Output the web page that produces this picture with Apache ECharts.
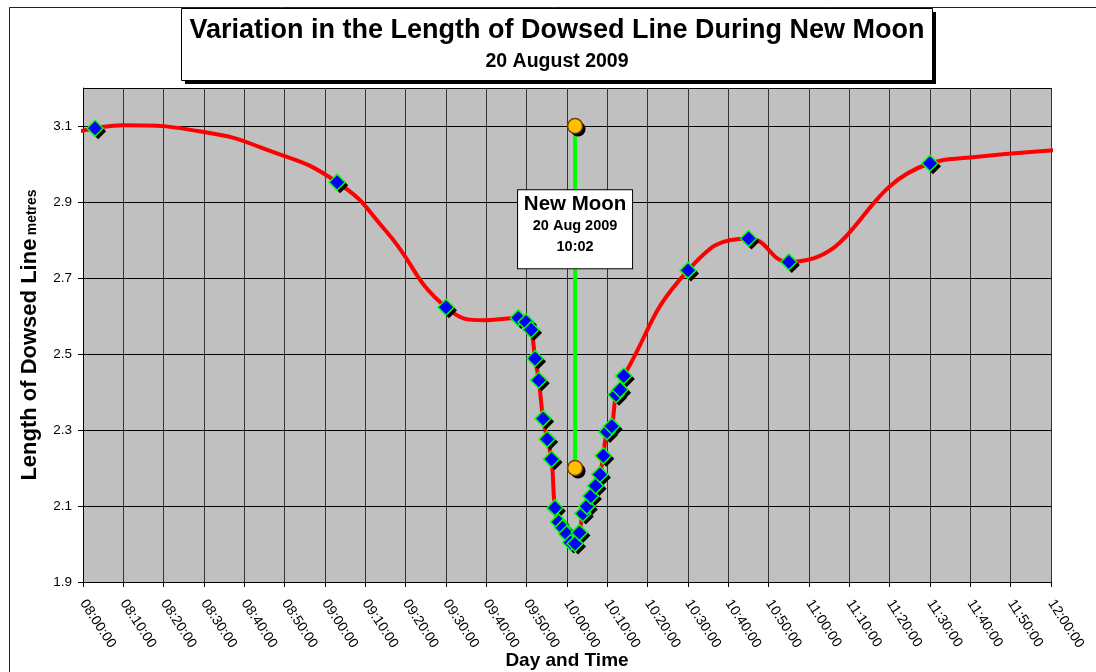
<!DOCTYPE html>
<html>
<head>
<meta charset="utf-8">
<script src="https://cdn.jsdelivr.net/npm/echarts@6/dist/echarts.min.js"></script>
<style>
html,body{margin:0;padding:0;background:#fff;}
#chart{width:1096px;height:672px;}
</style>
</head>
<body>
<div id="chart"></div>
<script>
// ---- Data ----
const xTickLabels = ['08:00:00','08:10:00','08:20:00','08:30:00','08:40:00','08:50:00',
  '09:00:00','09:10:00','09:20:00','09:30:00','09:40:00','09:50:00',
  '10:00:00','10:10:00','10:20:00','10:30:00','10:40:00','10:50:00',
  '11:00:00','11:10:00','11:20:00','11:30:00','11:40:00','11:50:00','12:00:00'];

// Measured samples (blue diamonds)
const sampleTimes = ['08:03:00','09:03:00','09:30:00','09:47:55','09:49:50','09:51:05',
  '09:52:05','09:53:00','09:54:05','09:55:05','09:56:10','09:57:00','09:57:55',
  '09:58:55','09:59:55','10:00:55','10:02:00','10:03:05','10:03:55','10:04:55',
  '10:05:55','10:07:05','10:08:10','10:09:00','10:09:55','10:11:05','10:12:10',
  '10:13:10','10:14:05','10:30:00','10:45:00','10:55:00','11:30:00'];
const sampleLengths = [3.094,2.952,2.623,2.595,2.584,2.564,
  2.488,2.431,2.330,2.276,2.223,2.095,2.058,
  2.043,2.027,2.004,2.001,2.030,2.080,2.099,
  2.126,2.153,2.183,2.232,2.295,2.310,2.393,
  2.406,2.442,2.720,2.804,2.742,3.002];

// Additional points (outside / between samples)
const curveExtraTimes = ['07:58:00','08:10:00','08:30:00','08:45:00','09:15:00','09:40:00','11:40:00','12:02:00'];
const curveExtraLengths = [3.083,3.102,3.084,3.040,2.825,2.589,3.017,3.037];

// New Moon marker
const moonTime = '10:02:00';
const moonLow = 2.2;
const moonHigh = 3.1;
const moonLabelLength = 2.828;
const moonLabelLines = ['New Moon','20 Aug 2009','10:02'];

// ---- helpers ----
function toMin(t){ const p=t.split(':').map(Number); return (p[0]-8)*60+p[1]+(p[2]||0)/60; }
const samples = sampleTimes.map((t,i)=>[toMin(t), sampleLengths[i]]);
const curve = samples.concat(curveExtraTimes.map((t,i)=>[toMin(t), curveExtraLengths[i]]))
  .sort((a,b)=>a[0]-b[0]);
const mt = toMin(moonTime);
const moonPts = [[mt,moonLow],[mt,moonHigh]];

const FONT = '"Liberation Sans", Arial, sans-serif';
const chart = echarts.init(document.getElementById('chart'));
chart.setOption({
  animation:false,
  backgroundColor:'#fff',
  textStyle:{fontFamily:FONT},
  grid:{left:83,right:45,top:88,bottom:90,show:true,backgroundColor:'#C0C0C0',borderWidth:0,
    containLabel:false,outerBoundsMode:'none'},
  graphic:[
    {type:'rect',z:100,silent:true,shape:{x:9.5,y:7.5,width:1300,height:900},
      style:{fill:null,stroke:'#222',lineWidth:1}},
    {type:'rect',z:100,silent:true,shape:{x:185,y:12,width:751,height:72},
      style:{fill:'#000',stroke:null}},
    {type:'rect',z:101,silent:true,shape:{x:181.5,y:8.5,width:751,height:72},
      style:{fill:'#fff',stroke:'#000',lineWidth:1}},
    {type:'text',z:102,silent:true,x:557,y:31,
      style:{text:'Variation in the Length of Dowsed Line During New Moon',font:'bold 27px '+FONT,fill:'#000',textAlign:'center',textVerticalAlign:'middle'}},
    {type:'text',z:102,silent:true,x:557,y:62,
      style:{text:'20 August 2009',font:'bold 19.5px '+FONT,fill:'#000',textAlign:'center',textVerticalAlign:'middle'}}
  ],
  xAxis:{
    type:'value',min:0,max:240,interval:10,
    name:'Day and Time',nameLocation:'middle',nameGap:69,nameMoveOverlap:false,
    nameTextStyle:{fontSize:19,fontWeight:'bold',color:'#000',fontFamily:FONT},
    axisLine:{show:true,onZero:false,lineStyle:{color:'#000',width:1}},
    axisTick:{show:true,length:5,lineStyle:{color:'#000'}},
    axisLabel:{rotate:-57,margin:19,fontSize:14,color:'#000',fontFamily:FONT,
      showMinLabel:true,showMaxLabel:true,hideOverlap:false,
      formatter:v=>xTickLabels[Math.round(v/10)]||''},
    splitLine:{show:true,lineStyle:{color:'#333',width:1}}
  },
  yAxis:{
    type:'value',min:1.9,max:3.2,interval:0.2,
    name:'{a|Length of Dowsed Line} {b|metres}',nameLocation:'middle',nameRotate:90,nameGap:42,nameMoveOverlap:false,
    nameTextStyle:{color:'#000',rich:{
      a:{fontSize:22,fontWeight:'bold',color:'#000',fontFamily:FONT},
      b:{fontSize:14,fontWeight:'bold',color:'#000',fontFamily:FONT,padding:[4,0,0,0]}}},
    axisLine:{show:true,lineStyle:{color:'#000',width:1}},
    axisTick:{show:true,length:5,lineStyle:{color:'#000'}},
    axisLabel:{margin:11,fontSize:13.5,color:'#000',fontFamily:FONT,showMaxLabel:false,
      formatter:v=>v.toFixed(1)},
    splitLine:{show:true,lineStyle:{color:'#000',width:1}}
  },
  series:[
    {type:'line',name:'moonline',data:moonPts,symbol:'none',z:2,
      lineStyle:{color:'#00FF00',width:4}},
    {type:'line',name:'curve',data:curve,smooth:0.5,showSymbol:false,symbol:'none',clip:false,z:3,
      lineStyle:{color:'#FF0000',width:4}},
    {type:'scatter',name:'samplesShadow',data:samples,symbol:'diamond',symbolSize:16,symbolOffset:[3,3],z:4,
      itemStyle:{color:'#000',opacity:1}},
    {type:'scatter',name:'samples',data:samples,symbol:'diamond',symbolSize:16,z:5,
      itemStyle:{color:'#0000FF',borderColor:'#00FF00',borderWidth:1.5,opacity:1}},
    {type:'scatter',name:'moonShadow',data:moonPts,symbol:'circle',symbolSize:15,symbolOffset:[3,3],z:6,
      itemStyle:{color:'#000',opacity:1}},
    {type:'scatter',name:'moon',data:moonPts,symbol:'circle',symbolSize:15,z:7,
      itemStyle:{color:'#FFC000',borderColor:'#7A3D00',borderWidth:1.5,opacity:1}},
    {type:'scatter',name:'moonlabel',data:[[mt,moonLabelLength]],symbolSize:1,z:8,
      itemStyle:{color:'rgba(0,0,0,0)',opacity:1},
      label:{show:true,position:'inside',opacity:1,
        formatter:'{a|'+moonLabelLines[0]+'}\n{b|'+moonLabelLines[1]+'}\n{c|'+moonLabelLines[2]+'}',
        backgroundColor:'#fff',borderColor:'#000',borderWidth:1,width:114,align:'center',
        padding:[3,0,11,0],
        rich:{
          a:{fontSize:20.5,fontWeight:'bold',color:'#000',lineHeight:22,align:'center',fontFamily:FONT},
          b:{fontSize:14.5,fontWeight:'bold',color:'#000',lineHeight:21,align:'center',fontFamily:FONT},
          c:{fontSize:14.5,fontWeight:'bold',color:'#000',lineHeight:21,align:'center',fontFamily:FONT}
        }}}
  ]
});
</script>
</body>
</html>
